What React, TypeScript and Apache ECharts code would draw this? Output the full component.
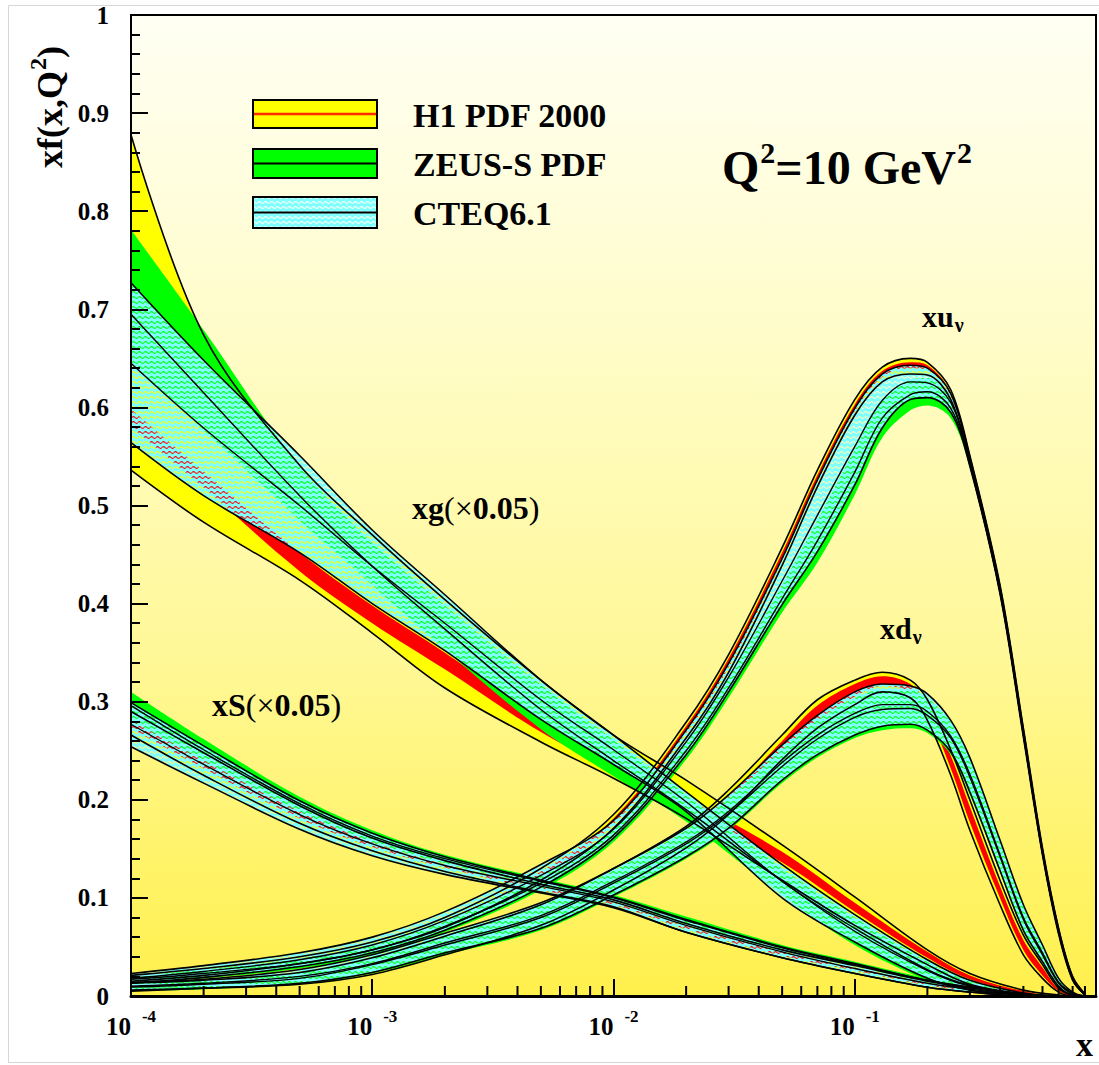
import React, { useEffect, useRef } from "react";
import * as echarts from "echarts";

// ---------- x nodes ----------
const XS = [1e-4, 2e-4, 5e-4, 1e-3, 2e-3, 5e-3, 0.01, 0.02, 0.05, 0.1, 0.2, 0.3, 0.5, 0.7, 0.9];
const XV = [1e-4, 2e-4, 5e-4, 1e-3, 2e-3, 5e-3, 0.01, 0.02, 0.03, 0.05, 0.07, 0.1, 0.13, 0.17, 0.2, 0.25, 0.3, 0.4, 0.5, 0.6, 0.7, 0.8, 0.9];
const X_MINOR = [
  2e-4, 3e-4, 4e-4, 5e-4, 6e-4, 7e-4, 8e-4, 9e-4,
  2e-3, 3e-3, 4e-3, 5e-3, 6e-3, 7e-3, 8e-3, 9e-3,
  2e-2, 3e-2, 4e-2, 5e-2, 6e-2, 7e-2, 8e-2, 9e-2,
  0.2, 0.3, 0.4, 0.5, 0.6, 0.7, 0.8, 0.9,
];

// ---------- xg (x0.05) ----------
const XG_H1_HI = [0.878, 0.674, 0.541, 0.470, 0.404, 0.322, 0.266, 0.220, 0.154, 0.101, 0.047, 0.023, 0.006, 0.001, 0];
const XG_H1_LO = [0.536, 0.483, 0.424, 0.370, 0.314, 0.259, 0.222, 0.181, 0.118, 0.072, 0.032, 0.012, 0.002, 0, 0];
const XG_H1_RHI = [0.598, 0.535, 0.452, 0.398, 0.350, 0.283, 0.243, 0.202, 0.147, 0.095, 0.045, 0.021, 0.005, 0, 0];
const XG_H1_RLO = [0.580, 0.518, 0.433, 0.380, 0.333, 0.269, 0.230, 0.190, 0.136, 0.086, 0.039, 0.017, 0.003, 0, 0];
const XG_ZEUS_HI = [0.781, 0.679, 0.540, 0.462, 0.398, 0.317, 0.261, 0.205, 0.130, 0.080, 0.035, 0.015, 0.002, 0, 0];
const XG_ZEUS_LO = [0.645, 0.577, 0.485, 0.419, 0.353, 0.272, 0.224, 0.178, 0.103, 0.052, 0.016, 0.005, 0.001, 0, 0];
const XG_ZEUS_MID = [0.695, 0.615, 0.510, 0.438, 0.374, 0.292, 0.240, 0.190, 0.117, 0.066, 0.026, 0.010, 0.002, 0, 0];
const XG_CTEQ_HI = [0.727, 0.648, 0.551, 0.475, 0.409, 0.322, 0.266, 0.208, 0.134, 0.083, 0.037, 0.016, 0.003, 0, 0];
const XG_CTEQ_LO = [0.564, 0.510, 0.452, 0.400, 0.352, 0.282, 0.236, 0.188, 0.100, 0.055, 0.018, 0.006, 0.001, 0, 0];
const XG_CTEQ_MID = [0.645, 0.579, 0.500, 0.438, 0.380, 0.302, 0.251, 0.198, 0.117, 0.069, 0.027, 0.011, 0.002, 0, 0];

// ---------- xS (x0.05) ----------
const XSEA_H1_HI = [0.290, 0.248, 0.194, 0.161, 0.138, 0.114, 0.098, 0.074, 0.047, 0.031, 0.015, 0.008, 0.002, 0, 0];
const XSEA_H1_LO = [0.266, 0.225, 0.176, 0.148, 0.127, 0.106, 0.091, 0.065, 0.039, 0.023, 0.009, 0.004, 0, 0, 0];
const XSEA_H1_RHI = [0.282, 0.241, 0.189, 0.157, 0.134, 0.111, 0.095, 0.071, 0.045, 0.029, 0.013, 0.007, 0.001, 0, 0];
const XSEA_H1_RLO = [0.273, 0.232, 0.181, 0.152, 0.131, 0.108, 0.093, 0.068, 0.041, 0.026, 0.011, 0.005, 0, 0, 0];
const XSEA_ZEUS_HI = [0.310, 0.262, 0.203, 0.169, 0.144, 0.120, 0.103, 0.081, 0.052, 0.035, 0.018, 0.010, 0.003, 0, 0];
const XSEA_ZEUS_LO = [0.281, 0.240, 0.188, 0.157, 0.135, 0.113, 0.097, 0.073, 0.046, 0.030, 0.014, 0.007, 0.001, 0, 0];
const XSEA_ZEUS_MID = [0.296, 0.251, 0.196, 0.163, 0.140, 0.117, 0.100, 0.077, 0.049, 0.032, 0.016, 0.009, 0.002, 0, 0];
const XSEA_CTEQ_HI = [0.299, 0.255, 0.199, 0.166, 0.142, 0.118, 0.101, 0.078, 0.050, 0.033, 0.016, 0.009, 0.002, 0, 0];
const XSEA_CTEQ_LO = [0.254, 0.217, 0.170, 0.143, 0.124, 0.105, 0.090, 0.065, 0.039, 0.023, 0.009, 0.004, 0, 0, 0];
const XSEA_CTEQ_MID = [0.277, 0.236, 0.185, 0.155, 0.133, 0.112, 0.096, 0.072, 0.045, 0.028, 0.013, 0.007, 0.001, 0, 0];

// ---------- xu_v ----------
const XU_H1_HI = [0.021, 0.028, 0.040, 0.055, 0.080, 0.130, 0.185, 0.279, 0.348, 0.457, 0.536, 0.608, 0.641, 0.650, 0.646, 0.618, 0.551, 0.419, 0.273, 0.151, 0.069, 0.020, 0.002];
const XU_H1_LO = [0.015, 0.021, 0.033, 0.047, 0.070, 0.118, 0.171, 0.263, 0.330, 0.439, 0.519, 0.592, 0.626, 0.634, 0.633, 0.608, 0.543, 0.412, 0.267, 0.146, 0.065, 0.017, 0.001];
const XU_H1_RHI = [0.019, 0.025, 0.038, 0.052, 0.076, 0.127, 0.181, 0.275, 0.344, 0.452, 0.531, 0.603, 0.637, 0.646, 0.643, 0.615, 0.549, 0.417, 0.271, 0.149, 0.067, 0.019, 0.001];
const XU_H1_RLO = [0.017, 0.023, 0.035, 0.049, 0.072, 0.121, 0.175, 0.268, 0.335, 0.444, 0.524, 0.596, 0.631, 0.640, 0.638, 0.611, 0.545, 0.414, 0.269, 0.147, 0.066, 0.018, 0.001];
const XU_ZEUS_HI = [0.020, 0.027, 0.038, 0.052, 0.076, 0.122, 0.171, 0.259, 0.324, 0.419, 0.485, 0.557, 0.608, 0.628, 0.630, 0.608, 0.546, 0.415, 0.269, 0.147, 0.066, 0.018, 0.001];
const XU_ZEUS_LO = [0.013, 0.018, 0.028, 0.042, 0.065, 0.108, 0.157, 0.241, 0.304, 0.391, 0.442, 0.511, 0.569, 0.597, 0.602, 0.589, 0.538, 0.409, 0.263, 0.143, 0.063, 0.016, 0.001];
const XU_ZEUS_MID = [0.017, 0.023, 0.033, 0.047, 0.071, 0.115, 0.164, 0.250, 0.314, 0.405, 0.464, 0.534, 0.589, 0.613, 0.616, 0.599, 0.542, 0.412, 0.266, 0.145, 0.065, 0.017, 0.001];
const XU_CTEQ_HI = [0.023, 0.031, 0.044, 0.060, 0.086, 0.134, 0.179, 0.271, 0.339, 0.446, 0.526, 0.599, 0.634, 0.643, 0.640, 0.614, 0.549, 0.417, 0.271, 0.149, 0.068, 0.019, 0.002];
const XU_CTEQ_LO = [0.013, 0.019, 0.030, 0.044, 0.067, 0.111, 0.161, 0.246, 0.310, 0.399, 0.453, 0.521, 0.579, 0.608, 0.610, 0.595, 0.540, 0.410, 0.264, 0.144, 0.063, 0.016, 0.001];
const XU_CTEQ_MID = [0.018, 0.025, 0.037, 0.052, 0.077, 0.123, 0.170, 0.259, 0.325, 0.423, 0.490, 0.560, 0.607, 0.626, 0.625, 0.605, 0.545, 0.414, 0.268, 0.147, 0.066, 0.018, 0.002];

// ---------- xd_v ----------
const XD_H1_HI = [0.013, 0.016, 0.024, 0.039, 0.061, 0.093, 0.130, 0.173, 0.210, 0.266, 0.302, 0.322, 0.330, 0.322, 0.302, 0.251, 0.200, 0.118, 0.062, 0.032, 0.008, 0.001, 0];
const XD_H1_LO = [0.006, 0.008, 0.012, 0.022, 0.042, 0.072, 0.108, 0.151, 0.185, 0.241, 0.273, 0.297, 0.310, 0.304, 0.281, 0.225, 0.169, 0.093, 0.042, 0.018, 0.004, 0, 0];
const XD_H1_RHI = [0.011, 0.014, 0.021, 0.035, 0.057, 0.088, 0.125, 0.168, 0.204, 0.260, 0.296, 0.318, 0.326, 0.318, 0.297, 0.245, 0.193, 0.112, 0.057, 0.029, 0.007, 0.001, 0];
const XD_H1_RLO = [0.008, 0.010, 0.015, 0.027, 0.047, 0.077, 0.114, 0.157, 0.192, 0.248, 0.281, 0.305, 0.316, 0.310, 0.288, 0.232, 0.177, 0.100, 0.047, 0.021, 0.005, 0, 0];
const XD_ZEUS_HI = [0.013, 0.016, 0.024, 0.040, 0.062, 0.093, 0.128, 0.169, 0.202, 0.251, 0.281, 0.304, 0.312, 0.312, 0.304, 0.279, 0.241, 0.157, 0.091, 0.050, 0.017, 0.003, 0];
const XD_ZEUS_LO = [0.005, 0.007, 0.012, 0.023, 0.042, 0.067, 0.101, 0.140, 0.169, 0.217, 0.243, 0.263, 0.271, 0.273, 0.268, 0.246, 0.205, 0.126, 0.065, 0.034, 0.009, 0.001, 0];
const XD_ZEUS_MID = [0.009, 0.012, 0.018, 0.032, 0.052, 0.080, 0.115, 0.155, 0.186, 0.234, 0.262, 0.284, 0.292, 0.293, 0.286, 0.263, 0.223, 0.142, 0.078, 0.042, 0.013, 0.002, 0];
const XD_CTEQ_HI = [0.014, 0.017, 0.027, 0.042, 0.064, 0.095, 0.130, 0.171, 0.205, 0.256, 0.286, 0.310, 0.318, 0.316, 0.308, 0.281, 0.243, 0.159, 0.093, 0.052, 0.018, 0.004, 0];
const XD_CTEQ_LO = [0.005, 0.008, 0.013, 0.024, 0.044, 0.069, 0.103, 0.142, 0.171, 0.220, 0.246, 0.266, 0.275, 0.277, 0.271, 0.249, 0.208, 0.128, 0.067, 0.035, 0.010, 0.001, 0];
const XD_CTEQ_MID = [0.010, 0.013, 0.020, 0.033, 0.054, 0.082, 0.117, 0.157, 0.188, 0.238, 0.266, 0.288, 0.297, 0.297, 0.290, 0.265, 0.226, 0.144, 0.080, 0.044, 0.014, 0.003, 0];

const FONT = "'Liberation Serif', 'Times New Roman', serif";
const YELLOW = "#ffff00";
const RED = "#ff0000";
const GREEN = "#00ff00";
const SMOOTH = 0.35;

function makeHatch(): HTMLCanvasElement {
  const c = document.createElement("canvas");
  c.width = 6;
  c.height = 5;
  const ctx = c.getContext("2d")!;
  ctx.fillStyle = "rgb(128,255,255)";
  ctx.fillRect(0, 0, 6, 5);
  ctx.globalCompositeOperation = "destination-out";
  ctx.strokeStyle = "rgba(0,0,0,1)";
  ctx.lineWidth = 1.1;
  ctx.beginPath();
  ctx.moveTo(0, 2.5);
  ctx.quadraticCurveTo(1.5, 0.8, 3, 2.5);
  ctx.quadraticCurveTo(4.5, 4.2, 6, 2.5);
  ctx.stroke();
  return c;
}

// Data items are stored as [y, x] so that the stacked dimension (the first
// numeric one) is the y value; encode maps them back onto the axes.
function band(key: string, xs: number[], lo: number[], hi: number[], fill: any, edge: string | null) {
  const base: any = {
    type: "line",
    stack: key,
    stackStrategy: "all",
    symbol: "none",
    smooth: SMOOTH,
    silent: true,
    emphasis: { disabled: true },
    encode: { x: 1, y: 0 },
  };
  const ls = edge ? { color: edge, width: 1.6 } : { width: 0, opacity: 0 };
  return [
    { ...base, name: key + "-lo", data: xs.map((x, i) => [lo[i], x]), lineStyle: ls },
    {
      ...base,
      name: key + "-hi",
      data: xs.map((x, i) => [hi[i] - lo[i], x]),
      lineStyle: ls,
      areaStyle: { color: fill, opacity: 1 },
    },
  ];
}

function curve(key: string, xs: number[], ys: number[], color: string, width: number) {
  return {
    type: "line",
    name: key,
    symbol: "none",
    smooth: SMOOTH,
    silent: true,
    emphasis: { disabled: true },
    data: xs.map((x, i) => [x, ys[i]]),
    lineStyle: { color, width },
  };
}

export default function App() {
  const ref = useRef<HTMLDivElement>(null);
  useEffect(() => {
    document.body.style.margin = "0";
    const chart = echarts.init(ref.current!, undefined, { renderer: "svg" });
    const hatch = makeHatch();
    const hatchFill = { image: hatch, repeat: "repeat" };

    const series: any[] = [
      // H1 PDF 2000
      ...band("h1g", XS, XG_H1_LO, XG_H1_HI, YELLOW, "#000"),
      ...band("h1gr", XS, XG_H1_RLO, XG_H1_RHI, RED, null),
      ...band("h1s", XS, XSEA_H1_LO, XSEA_H1_HI, YELLOW, "#000"),
      ...band("h1sr", XS, XSEA_H1_RLO, XSEA_H1_RHI, RED, null),
      ...band("h1u", XV, XU_H1_LO, XU_H1_HI, YELLOW, "#000"),
      ...band("h1ur", XV, XU_H1_RLO, XU_H1_RHI, RED, null),
      ...band("h1d", XV, XD_H1_LO, XD_H1_HI, YELLOW, "#000"),
      ...band("h1dr", XV, XD_H1_RLO, XD_H1_RHI, RED, null),
      // ZEUS-S
      ...band("zg", XS, XG_ZEUS_LO, XG_ZEUS_HI, GREEN, null),
      curve("zgm", XS, XG_ZEUS_MID, "#000", 1.4),
      ...band("zs", XS, XSEA_ZEUS_LO, XSEA_ZEUS_HI, GREEN, null),
      curve("zsm", XS, XSEA_ZEUS_MID, "#000", 1.4),
      ...band("zu", XV, XU_ZEUS_LO, XU_ZEUS_HI, GREEN, null),
      curve("zum", XV, XU_ZEUS_MID, "#000", 1.4),
      ...band("zd", XV, XD_ZEUS_LO, XD_ZEUS_HI, GREEN, null),
      curve("zdm", XV, XD_ZEUS_MID, "#000", 1.4),
      // CTEQ6.1
      ...band("cg", XS, XG_CTEQ_LO, XG_CTEQ_HI, hatchFill, "#000"),
      curve("cgm", XS, XG_CTEQ_MID, "#000", 1.4),
      ...band("cs", XS, XSEA_CTEQ_LO, XSEA_CTEQ_HI, hatchFill, "#000"),
      curve("csm", XS, XSEA_CTEQ_MID, "#000", 1.4),
      ...band("cu", XV, XU_CTEQ_LO, XU_CTEQ_HI, hatchFill, "#000"),
      curve("cum", XV, XU_CTEQ_MID, "#000", 1.4),
      ...band("cd", XV, XD_CTEQ_LO, XD_CTEQ_HI, hatchFill, "#000"),
      curve("cdm", XV, XD_CTEQ_MID, "#000", 1.4),
      // minor log ticks on the x axis
      {
        type: "custom",
        name: "minorTicks",
        silent: true,
        clip: false,
        z: 10,
        data: X_MINOR.map((v) => [v, 0]),
        encode: { x: 0, y: 1 },
        renderItem: (_p: any, api: any) => {
          const p = api.coord([api.value(0), 0]);
          return {
            type: "line",
            shape: { x1: p[0], y1: p[1], x2: p[0], y2: p[1] - 10 },
            style: { stroke: "#000", lineWidth: 2 },
          };
        },
      },
    ];

    const bold = { fontFamily: FONT, fontWeight: "bold", fill: "#000" };

    chart.setOption({
      animation: false,
      backgroundColor: "#ffffff",
      grid: {
        left: 131,
        right: -15,
        top: 15,
        bottom: 69,
        show: true,
        borderColor: "#000",
        borderWidth: 2,
        backgroundColor: {
          type: "linear",
          x: 0,
          y: 0,
          x2: 0,
          y2: 1,
          colorStops: [
            { offset: 0, color: "#fffff4" },
            { offset: 0.35, color: "#fffcc6" },
            { offset: 0.65, color: "#fff898" },
            { offset: 1, color: "#fff04c" },
          ],
        },
      },
      xAxis: {
        type: "log",
        logBase: 10,
        min: 1e-4,
        max: 1,
        z: 10,
        axisLine: { show: true, onZero: false, lineStyle: { color: "#000", width: 3 } },
        axisTick: { show: true, inside: true, length: 17, lineStyle: { color: "#000", width: 2 } },
        splitLine: { show: false },
        axisLabel: {
          margin: 12,
          formatter: (v: number) => {
            if (v > 0.5) return "";
            const e = Math.round(Math.log10(v));
            return "{b|10}{s|" + e + "}";
          },
          rich: {
            b: { fontFamily: FONT, fontWeight: "bold", fontSize: 25, color: "#000", verticalAlign: "bottom" },
            s: {
              fontFamily: FONT,
              fontWeight: "bold",
              fontSize: 17,
              color: "#000",
              verticalAlign: "bottom",
              padding: [0, 0, 14, 11],
            },
          },
        },
      },
      yAxis: {
        type: "value",
        min: 0,
        max: 1,
        interval: 0.1,
        z: 10,
        axisLine: { show: true, lineStyle: { color: "#000", width: 2 } },
        axisTick: { show: true, inside: true, length: 17, lineStyle: { color: "#000", width: 2 } },
        minorTick: { show: true, splitNumber: 5, length: 9, lineStyle: { color: "#000", width: 2 } },
        splitLine: { show: false },
        minorSplitLine: { show: false },
        axisLabel: {
          margin: 22,
          fontFamily: FONT,
          fontWeight: "bold",
          fontSize: 25,
          color: "#000",
          formatter: (v: number) => (v === 0 ? "0" : v === 1 ? "1" : v.toFixed(1)),
        },
      },
      series,
      graphic: {
        elements: [
          {
            type: "rect",
            z: 100,
            silent: true,
            shape: { x: 8.5, y: 5.5, width: 1100, height: 1057 },
            style: { fill: "none", stroke: "#d6d6d6", lineWidth: 1 },
          },
          // legend
          { type: "rect", z: 100, shape: { x: 253, y: 100, width: 124, height: 28 }, style: { fill: YELLOW, stroke: "#000", lineWidth: 2 } },
          { type: "line", z: 101, shape: { x1: 254, y1: 114, x2: 376, y2: 114 }, style: { stroke: "#ff2a00", lineWidth: 2.5 } },
          { type: "rect", z: 100, shape: { x: 253, y: 149, width: 124, height: 29 }, style: { fill: GREEN, stroke: "#000", lineWidth: 2 } },
          { type: "line", z: 101, shape: { x1: 254, y1: 163.5, x2: 376, y2: 163.5 }, style: { stroke: "#000", lineWidth: 2 } },
          { type: "rect", z: 100, shape: { x: 253, y: 197, width: 124, height: 31 }, style: { fill: "#fffff0" } },
          { type: "rect", z: 101, shape: { x: 253, y: 197, width: 124, height: 31 }, style: { fill: hatchFill, stroke: "#000", lineWidth: 2 } },
          { type: "line", z: 102, shape: { x1: 254, y1: 212.5, x2: 376, y2: 212.5 }, style: { stroke: "#000", lineWidth: 2 } },
          { type: "text", z: 100, x: 413, y: 115, style: { ...bold, text: "H1 PDF 2000", fontSize: 34, verticalAlign: "middle", textVerticalAlign: "middle" } },
          { type: "text", z: 100, x: 413, y: 164, style: { ...bold, text: "ZEUS-S PDF", fontSize: 34, verticalAlign: "middle", textVerticalAlign: "middle" } },
          { type: "text", z: 100, x: 413, y: 213, style: { ...bold, text: "CTEQ6.1", fontSize: 34, verticalAlign: "middle", textVerticalAlign: "middle" } },
          // Q^2 label
          {
            type: "text",
            z: 100,
            x: 722,
            y: 164,
            style: {
              text: "{m|Q}{s|2}{m|=10 GeV}{s|2}",
              verticalAlign: "middle",
              textVerticalAlign: "middle",
              rich: {
                m: { fontFamily: FONT, fontWeight: "bold", fontSize: 48, fill: "#000", verticalAlign: "bottom" },
                s: { fontFamily: FONT, fontWeight: "bold", fontSize: 30, fill: "#000", verticalAlign: "bottom", padding: [0, 0, 24, 1] },
              },
            },
          },
          // curve labels
          {
            type: "text",
            z: 100,
            x: 412,
            y: 508,
            style: {
              text: "{b|xg}{n|(×}{b|0.05}{n|)}",
              verticalAlign: "middle",
              textVerticalAlign: "middle",
              rich: {
                b: { fontFamily: FONT, fontWeight: "bold", fontSize: 32, fill: "#000" },
                n: { fontFamily: FONT, fontWeight: "normal", fontSize: 32, fill: "#000" },
              },
            },
          },
          {
            type: "text",
            z: 100,
            x: 212,
            y: 705,
            style: {
              text: "{b|xS}{n|(×}{b|0.05}{n|)}",
              verticalAlign: "middle",
              textVerticalAlign: "middle",
              rich: {
                b: { fontFamily: FONT, fontWeight: "bold", fontSize: 32, fill: "#000" },
                n: { fontFamily: FONT, fontWeight: "normal", fontSize: 32, fill: "#000" },
              },
            },
          },
          {
            type: "text",
            z: 100,
            x: 922,
            y: 318,
            style: {
              text: "{b|xu}{u|ν}",
              verticalAlign: "middle",
              textVerticalAlign: "middle",
              rich: {
                b: { fontFamily: FONT, fontWeight: "bold", fontSize: 30, fill: "#000", verticalAlign: "top" },
                u: { fontFamily: FONT, fontWeight: "bold", fontSize: 20, fill: "#000", verticalAlign: "top", padding: [14, 0, 0, 1] },
              },
            },
          },
          {
            type: "text",
            z: 100,
            x: 880,
            y: 630,
            style: {
              text: "{b|xd}{u|ν}",
              verticalAlign: "middle",
              textVerticalAlign: "middle",
              rich: {
                b: { fontFamily: FONT, fontWeight: "bold", fontSize: 30, fill: "#000", verticalAlign: "top" },
                u: { fontFamily: FONT, fontWeight: "bold", fontSize: 20, fill: "#000", verticalAlign: "top", padding: [14, 0, 0, 1] },
              },
            },
          },
          // y axis title (rotated)
          {
            type: "text",
            z: 100,
            x: 68,
            y: 168,
            rotation: Math.PI / 2,
            style: {
              text: "{m|xf(x,Q}{s|2}{m|)}",
              align: "left",
              textAlign: "left",
              verticalAlign: "bottom",
              textVerticalAlign: "bottom",
              rich: {
                m: { fontFamily: FONT, fontWeight: "bold", fontSize: 36, fill: "#000", verticalAlign: "bottom" },
                s: { fontFamily: FONT, fontWeight: "bold", fontSize: 24, fill: "#000", verticalAlign: "bottom", padding: [0, 0, 18, 1] },
              },
            },
          },
          // x axis title at the bottom-right corner
          { type: "text", z: 100, x: 1076, y: 1044, style: { ...bold, text: "x", fontSize: 34, verticalAlign: "middle", textVerticalAlign: "middle" } },
        ],
      },
    });
    return () => chart.dispose();
  }, []);
  return (
    <div
      ref={ref}
      style={{ width: 1099, height: 1065, position: "absolute", left: 0, top: 0, overflow: "hidden" }}
    />
  );
}
